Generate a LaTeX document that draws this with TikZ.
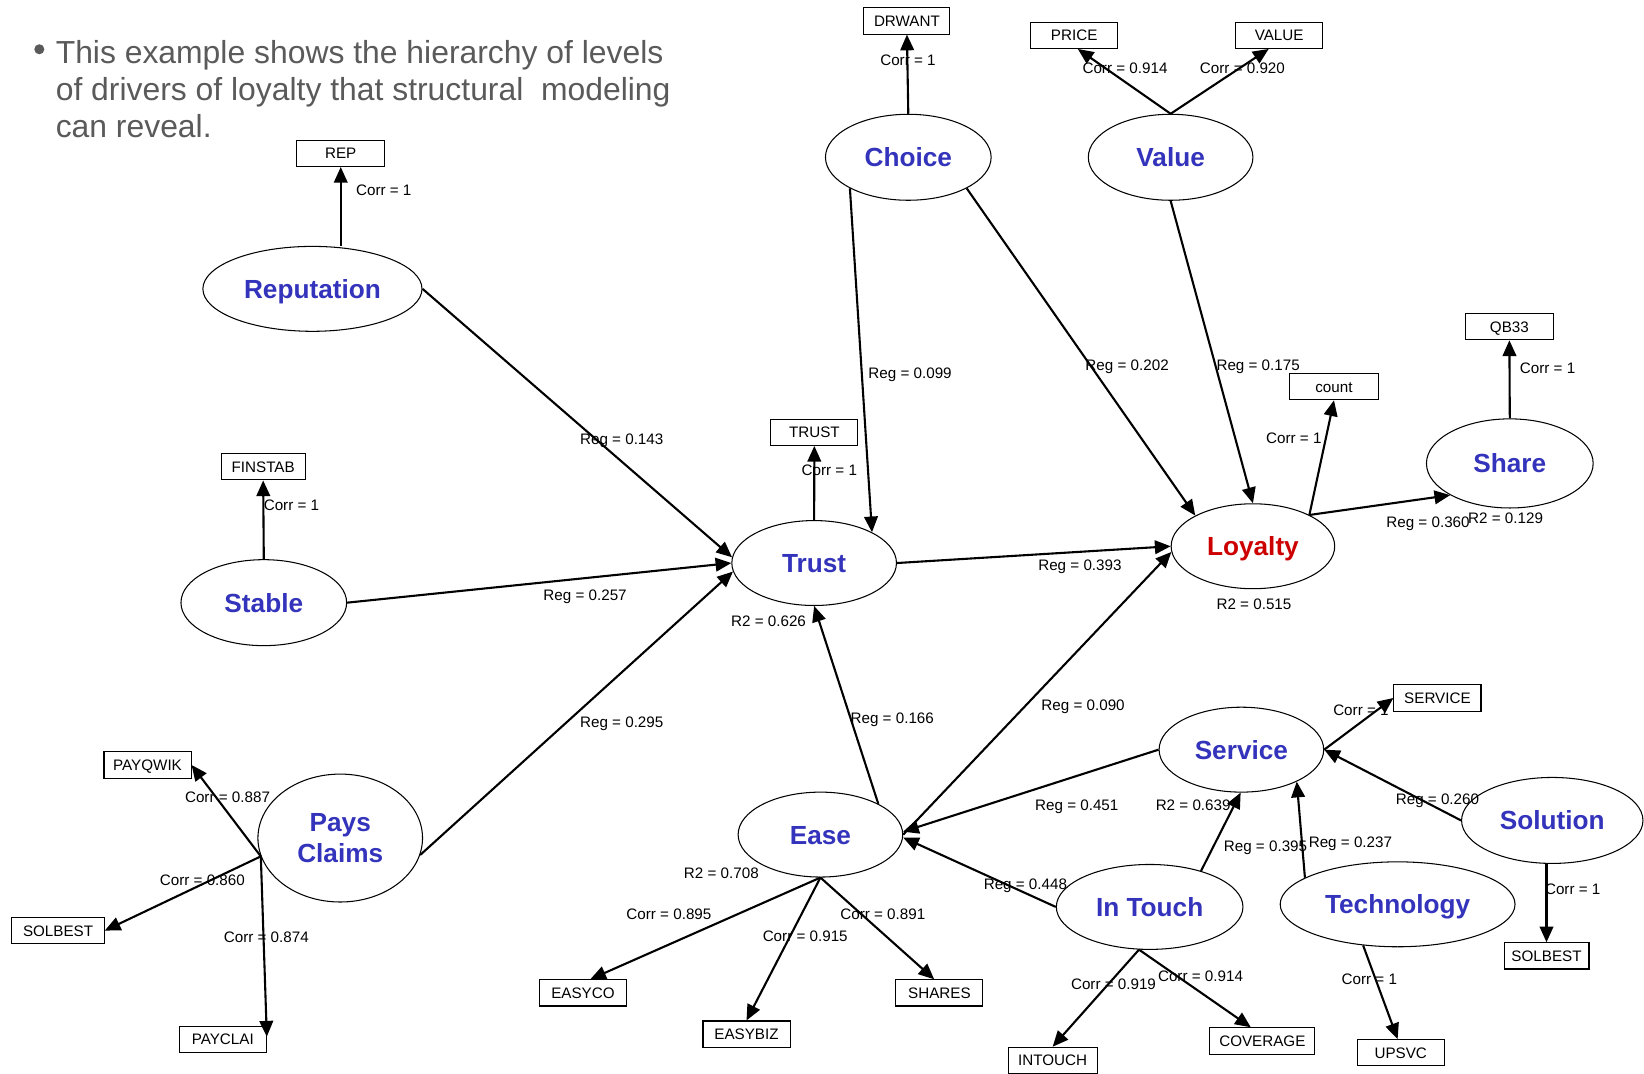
\documentclass[tikz,border=0pt]{standalone}
\usepackage{fontspec}
\setmainfont{Liberation Sans}
\usetikzlibrary{shapes.geometric,arrows.meta,calc}
\definecolor{latblue}{RGB}{51,51,187}
\definecolor{latred}{RGB}{204,0,0}
\definecolor{titlegray}{RGB}{90,90,90}
\begin{document}
\begin{tikzpicture}[x=1pt,y=-1pt,
  lat/.style={ellipse,draw,line width=1pt,inner sep=0pt,text=latblue,
    font=\fontsize{25}{30}\selectfont\bfseries,align=center,text height=18pt,text depth=0pt},
  obs/.style={rectangle,draw,line width=1pt,inner sep=0pt,minimum height=25pt,
    font=\fontsize{14.5}{17}\selectfont,text height=10.4pt,text depth=0pt},
  lbl/.style={inner sep=0pt,font=\fontsize{14.5}{17}\selectfont,text height=10.4pt,text depth=0pt},
  arr/.style={line width=2pt,-{Triangle[length=15pt,width=13pt]}},
  ttl/.style={anchor=base west,inner sep=0pt,text=titlegray,font=\fontsize{30.4}{36}\selectfont}
]
\path[use as bounding box] (0,0) rectangle (1568,1024);

% title
\fill[titlegray] (37.5,47) circle (4.8);
\node[ttl] (t1) at (53,60.4) {This example shows the hierarchy of levels};
\node[ttl] (t2) at (53,95.8) {of drivers of loyalty that structural\ \ modeling};
\node[ttl] (t3) at (53,131.2) {can reveal.};

% latent variables
\node[lat,minimum width=209pt,minimum height=81pt] (Rep) at (298,275.5) {Reputation};
\node[lat,minimum width=158pt,minimum height=82pt] (Stable) at (251.6,574.8) {Stable};
\node[lat,minimum width=157pt,minimum height=122pt,text height=,text depth=] (Pays) at (324.5,799.3) {Pays\\[-1pt]Claims};
\node[lat,minimum width=158pt,minimum height=82pt] (Choice) at (866.3,150) {Choice};
\node[lat,minimum width=157pt,minimum height=82pt] (Value) at (1116.5,150) {Value};
\node[lat,minimum width=157pt,minimum height=81pt] (Trust) at (776.5,537) {Trust};
\node[lat,text=latred,minimum width=156pt,minimum height=81pt] (Loyalty) at (1195,521) {Loyalty};
\node[lat,minimum width=159pt,minimum height=85pt] (Share) at (1440,442) {Share};
\node[lat,minimum width=157pt,minimum height=81pt] (Service) at (1184,715) {Service};
\node[lat,minimum width=157pt,minimum height=81pt] (Ease) at (782.5,796) {Ease};
\node[lat,minimum width=178pt,minimum height=81pt] (InTouch) at (1096.5,865) {In Touch};
\node[lat,minimum width=224pt,minimum height=81pt] (Tech) at (1333,862.5) {Technology};
\node[lat,minimum width=173pt,minimum height=82pt] (Solution) at (1480.5,782.5) {Solution};

% observed variables
\node[obs,minimum width=84pt] (REP) at (325,146.3) {REP};
\node[obs,minimum width=82pt] (DRWANT) at (865,20) {DRWANT};
\node[obs,minimum width=83pt] (PRICE) at (1024.5,33.7) {PRICE};
\node[obs,minimum width=83pt] (VALUE) at (1220,33.7) {VALUE};
\node[obs,minimum width=80pt] (FINSTAB) at (251,445.2) {FINSTAB};
\node[obs,minimum width=83pt] (TRUST) at (776.7,412.3) {TRUST};
\node[obs,minimum width=84pt] (QB33) at (1439.6,311.6) {QB33};
\node[obs,minimum width=85pt] (count) at (1272.3,368.8) {count};
\node[obs,minimum width=83pt] (SERVICE) at (1371,665.7) {SERVICE};
\node[obs,minimum width=83pt] (PAYQWIK) at (140.7,729.6) {PAYQWIK};
\node[obs,minimum width=88pt] (SOLBESTl) at (55.4,887.6) {SOLBEST};
\node[obs,minimum width=83pt] (PAYCLAI) at (212.5,991.2) {PAYCLAI};
\node[obs,minimum width=83pt] (EASYCO) at (556,947) {EASYCO};
\node[obs,minimum width=83pt] (EASYBIZ) at (712,986.3) {EASYBIZ};
\node[obs,minimum width=83pt] (SHARES) at (896,947) {SHARES};
\node[obs,minimum width=85pt] (INTOUCH) at (1004,1011.3) {INTOUCH};
\node[obs,minimum width=100pt] (COVERAGE) at (1204,992.8) {COVERAGE};
\node[obs,minimum width=83pt] (UPSVC) at (1336,1004) {UPSVC};
\node[obs,minimum width=81pt] (SOLBESTr) at (1475,911.7) {SOLBEST};

% measurement arrows
\draw[arr] (Rep.north -| REP.south) -- (REP.south);
\draw[arr] (Stable.north) -- (FINSTAB.south);
\draw[arr] (Choice.north) -- (DRWANT.south);
\draw[arr] (Value.north) -- ([xshift=3.5pt]PRICE.south);
\draw[arr] (Value.north) -- ([xshift=-10pt]VALUE.south);
\draw[arr] (Trust.north) -- (TRUST.south);
\draw[arr] (Loyalty.29) -- (count.south);
\draw[arr] (Share.north) -- (QB33.south);
\draw[arr] (Service.east) -- (SERVICE.west);
\draw[arr] (Pays.193) -- (PAYQWIK.east);
\draw[arr] (Pays.193) -- (SOLBESTl.east);
\draw[arr] (Pays.193) -- ([yshift=2.5pt]PAYCLAI.east);
\draw[arr] (Ease.south) -- ([xshift=7pt]EASYCO.north);
\draw[arr] (Ease.south) -- (EASYBIZ.north);
\draw[arr] (Ease.south) -- ([xshift=-5pt]SHARES.north);
\draw[arr] (InTouch.256) -- (INTOUCH.north);
\draw[arr] (InTouch.256) -- ([xshift=-11pt]COVERAGE.north);
\draw[arr] (Tech.230) -- ([xshift=-3pt]UPSVC.north);
\draw[arr] (Solution.south -| SOLBESTr.north) -- (SOLBESTr.north);

% structural arrows
\draw[arr] (Rep.east) -- (Trust.176);
\draw[arr] (Stable.east) -- (Trust.west);
\draw[arr] (Pays.-12) -- (Trust.186);
\draw[arr] (Choice.208) -- (Trust.28);
\draw[arr] (Choice.-28) -- (Loyalty.152);
\draw[arr] (Value.south) -- (Loyalty.north);
\draw[arr] (Trust.east) -- (Loyalty.west);
\draw[arr] (Ease.28) -- (Trust.south);
\draw[arr] (Ease.east) -- (Loyalty.184);
\draw[arr] (Service.west) -- (Ease.2);
\draw[arr] (InTouch.west) -- (Ease.-2);
\draw[arr] (InTouch.35) -- (Service.269);
\draw[arr] (Tech.164) -- (Service.330);
\draw[arr] (Solution.west) -- (Service.east);
\draw[arr] (Loyalty.29) -- (Share.208);

% labels
\node[lbl] (c1) at (366,181) {Corr = 1};
\node[lbl] (c2) at (278,482) {Corr = 1};
\node[lbl] (c3) at (866,57) {Corr = 1};
\node[lbl] (c4) at (1073,65) {Corr = 0.914};
\node[lbl] (c5) at (1185,65) {Corr = 0.920};
\node[lbl] (r1) at (868,356) {Reg = 0.099};
\node[lbl] (r2) at (1075,348) {Reg = 0.202};
\node[lbl] (r3) at (1200,348) {Reg = 0.175};
\node[lbl] (c6) at (1234,418) {Corr = 1};
\node[lbl] (c7) at (1476,351) {Corr = 1};
\node[lbl] (r4) at (593,419) {Reg = 0.143};
\node[lbl] (c8) at (791,448) {Corr = 1};
\node[lbl] (r5) at (558,568) {Reg = 0.257};
\node[lbl] (q1) at (733,592) {R2 = 0.626};
\node[lbl] (r6) at (1030,539) {Reg = 0.393};
\node[lbl] (q2) at (1196,576) {R2 = 0.515};
\node[lbl] (r7) at (1362,498) {Reg = 0.360};
\node[lbl] (q3) at (1436,494) {R2 = 0.129};
\node[lbl] (r8) at (593,689) {Reg = 0.295};
\node[lbl] (r9) at (851,685) {Reg = 0.166};
\node[lbl] (r10) at (1033,672) {Reg = 0.090};
\node[lbl] (c9) at (1298,677) {Corr = 1};
\node[lbl] (r11) at (1027,768) {Reg = 0.451};
\node[lbl] (q4) at (1138,768) {R2 = 0.639};
\node[lbl] (r12) at (1371,762) {Reg = 0.260};
\node[lbl] (r13) at (1207,807) {Reg = 0.395};
\node[lbl] (r14) at (1288,803) {Reg = 0.237};
\node[lbl] (r15) at (978,843) {Reg = 0.448};
\node[lbl] (q5) at (688,833) {R2 = 0.708};
\node[lbl] (c10) at (638,872) {Corr = 0.895};
\node[lbl] (c11) at (768,893) {Corr = 0.915};
\node[lbl] (c12) at (842,872) {Corr = 0.891};
\node[lbl] (c13) at (217,760) {Corr = 0.887};
\node[lbl] (c14) at (193,839) {Corr = 0.860};
\node[lbl] (c15) at (254,894) {Corr = 0.874};
\node[lbl] (c16) at (1062,939) {Corr = 0.919};
\node[lbl] (c17) at (1145,931) {Corr = 0.914};
\node[lbl] (c18) at (1306,934) {Corr = 1};
\node[lbl] (c19) at (1500,848) {Corr = 1};
\end{tikzpicture}
\end{document}
